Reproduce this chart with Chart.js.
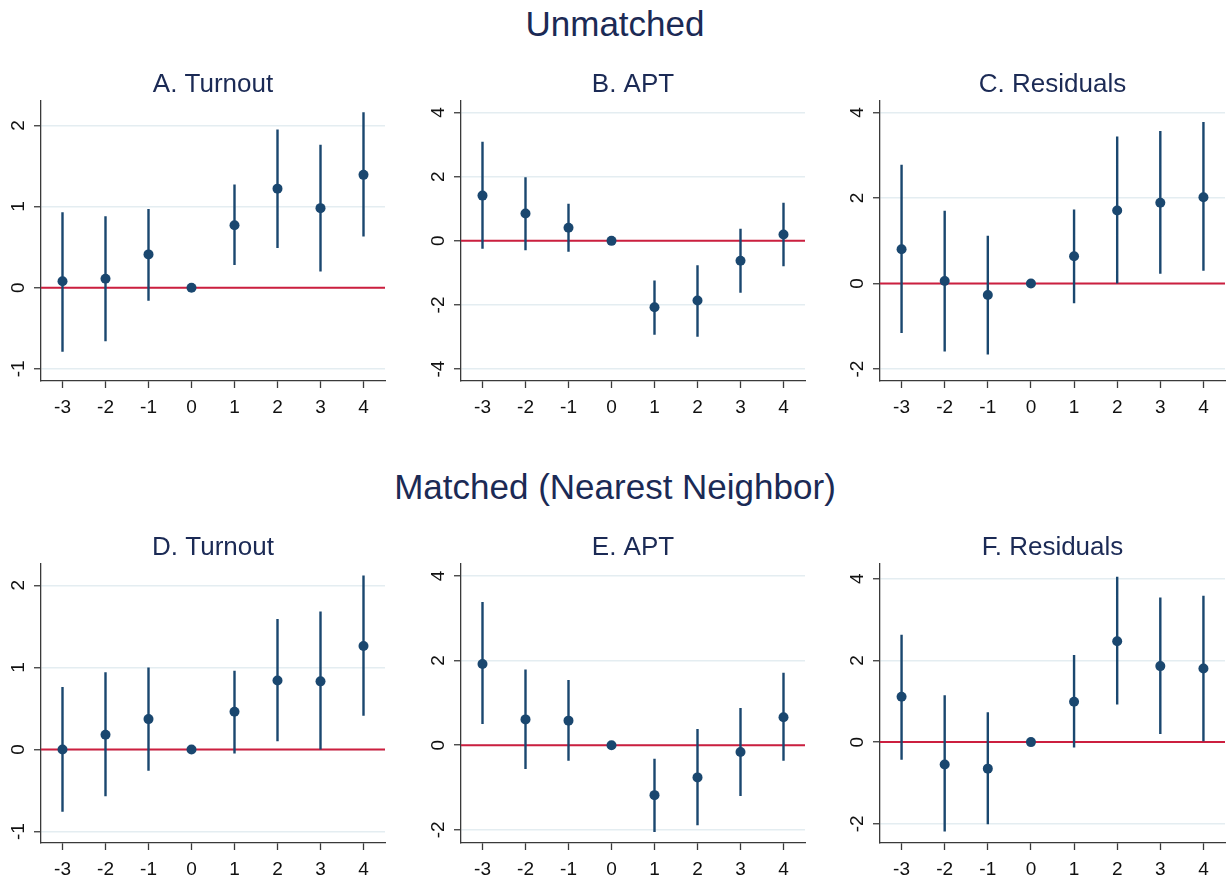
<!DOCTYPE html>
<html>
<head>
<meta charset="utf-8">
<script src="https://cdn.jsdelivr.net/npm/chart.js@4.4.1/dist/chart.umd.min.js"></script>
<style>
  body { margin: 0; background: #fff; }
  #page { position: relative; width: 1230px; height: 876px; overflow: hidden; }
  canvas { position: absolute; }
  .group-title {
    position: absolute; left: 0; width: 1230px; text-align: center;
    font-family: "Liberation Sans", Arial, sans-serif; font-size: 35px;
    line-height: 35px; color: #1b2a55;
  }
</style>
</head>
<body>
<div id="page">
  <div class="group-title" style="top: 6px;">Unmatched</div>
  <div class="group-title" style="top: 469px;">Matched (Nearest Neighbor)</div>
</div>
<script>
// event time (periods relative to treatment)
const periods = [-3, -2, -1, 0, 1, 2, 3, 4];

// A. Turnout (unmatched)
const turnoutUnCoef = [0.08, 0.11, 0.41, 0, 0.77, 1.22, 0.98, 1.39];
const turnoutUnLow = [-0.79, -0.66, -0.16, null, 0.28, 0.49, 0.20, 0.63];
const turnoutUnHigh = [0.93, 0.88, 0.97, null, 1.27, 1.95, 1.76, 2.16];

// B. APT (unmatched)
const aptUnCoef = [1.41, 0.85, 0.41, 0, -2.07, -1.86, -0.62, 0.20];
const aptUnLow = [-0.25, -0.29, -0.34, null, -2.93, -2.99, -1.62, -0.79];
const aptUnHigh = [3.09, 1.98, 1.16, null, -1.24, -0.76, 0.38, 1.19];

// C. Residuals (unmatched)
const residUnCoef = [0.80, 0.06, -0.27, 0, 0.64, 1.71, 1.89, 2.02];
const residUnLow = [-1.16, -1.59, -1.66, null, -0.46, 0.0, 0.23, 0.30];
const residUnHigh = [2.78, 1.70, 1.12, null, 1.73, 3.44, 3.57, 3.78];

// D. Turnout (matched)
const turnoutMCoef = [0.0, 0.18, 0.37, 0, 0.46, 0.84, 0.83, 1.26];
const turnoutMLow = [-0.76, -0.57, -0.26, null, -0.05, 0.10, 0.0, 0.41];
const turnoutMHigh = [0.76, 0.94, 1.0, null, 0.96, 1.59, 1.68, 2.12];

// E. APT (matched)
const aptMCoef = [1.92, 0.61, 0.58, 0, -1.18, -0.76, -0.16, 0.66];
const aptMLow = [0.50, -0.56, -0.37, null, -2.05, -1.89, -1.20, -0.37];
const aptMHigh = [3.38, 1.79, 1.54, null, -0.32, 0.38, 0.88, 1.71];

// F. Residuals (matched)
const residMCoef = [1.11, -0.55, -0.65, 0, 0.99, 2.47, 1.86, 1.80];
const residMLow = [-0.43, -2.19, -2.01, null, -0.13, 0.92, 0.20, 0.02];
const residMHigh = [2.63, 1.15, 0.73, null, 2.13, 4.05, 3.54, 3.58];

// tick labels
const xTicks = [-3, -2, -1, 0, 1, 2, 3, 4];
const turnoutTicks = [-1, 0, 1, 2];
const aptUnTicks = [-4, -2, 0, 2, 4];
const wideTicks = [-2, 0, 2, 4];

const NAVY = "#1a476f";
const RED = "#cc1f3f";
const TITLE = "#1b2a55";
const AXIS = "#3a3a3a";
const GRID = "#e4edf1";
const FONT = "'Liberation Sans', Arial, sans-serif";

const panels = [
  { title: "A. Turnout", coef: turnoutUnCoef, lo: turnoutUnLow, hi: turnoutUnHigh, ticks: turnoutTicks, min: -1.15, max: 2.30, col: 0, row: 0 },
  { title: "B. APT", coef: aptUnCoef, lo: aptUnLow, hi: aptUnHigh, ticks: aptUnTicks, min: -4.37, max: 4.36, col: 1, row: 0 },
  { title: "C. Residuals", coef: residUnCoef, lo: residUnLow, hi: residUnHigh, ticks: wideTicks, min: -2.28, max: 4.27, col: 2, row: 0 },
  { title: "D. Turnout", coef: turnoutMCoef, lo: turnoutMLow, hi: turnoutMHigh, ticks: turnoutTicks, min: -1.14, max: 2.26, col: 0, row: 1 },
  { title: "E. APT", coef: aptMCoef, lo: aptMLow, hi: aptMHigh, ticks: wideTicks, min: -2.31, max: 4.28, col: 1, row: 1 },
  { title: "F. Residuals", coef: residMCoef, lo: residMLow, hi: residMHigh, ticks: wideTicks, min: -2.47, max: 4.36, col: 2, row: 1 },
];

// plot area edges
const colLeft = [41, 461, 880];
const colRight = [386, 806, 1226];
const rowTop = [101, 564];
const rowBottom = [381, 843];
const Y_AXIS_W = 41;
const TOP_PAD = 45;
const X_AXIS_H = 36;

const panelDecor = {
  id: "panelDecor",
  afterDraw(chart) {
    const ctx = chart.ctx;
    const area = chart.chartArea;
    const yScale = chart.scales.y;
    const opts = chart.options.plugins.panelDecor;
    ctx.save();
    // panel title
    ctx.fillStyle = TITLE;
    ctx.font = "26px " + FONT;
    ctx.textAlign = "center";
    ctx.textBaseline = "alphabetic";
    ctx.fillText(opts.title, (area.left + area.right) / 2, area.top - 9);
    // rotated y tick labels
    ctx.fillStyle = "#111";
    ctx.font = "19px " + FONT;
    ctx.textBaseline = "middle";
    opts.ticks.forEach((v) => {
      const y = yScale.getPixelForValue(v);
      ctx.save();
      ctx.translate(area.left - 23, y);
      ctx.rotate(-Math.PI / 2);
      ctx.fillText(String(v), 0, 1);
      ctx.restore();
    });
    ctx.restore();
  },
};

const page = document.getElementById("page");

panels.forEach((p) => {
  const left = colLeft[p.col] - Y_AXIS_W;
  const top = rowTop[p.row] - TOP_PAD;
  const width = colRight[p.col] - left + 4;
  const height = rowBottom[p.row] - top + X_AXIS_H;

  const canvas = document.createElement("canvas");
  canvas.width = width;
  canvas.height = height;
  canvas.style.left = left + "px";
  canvas.style.top = top + "px";
  canvas.style.width = width + "px";
  canvas.style.height = height + "px";
  page.appendChild(canvas);

  // confidence intervals as broken line segments
  const ciPoints = [];
  periods.forEach((x, i) => {
    if (p.lo[i] === null) return;
    ciPoints.push({ x: x, y: p.lo[i] });
    ciPoints.push({ x: x, y: p.hi[i] });
    ciPoints.push({ x: x, y: null });
  });

  new Chart(canvas.getContext("2d"), {
    type: "line",
    data: {
      datasets: [
        {
          label: "coef",
          data: periods.map((x, i) => ({ x: x, y: p.coef[i] })),
          showLine: false,
          pointRadius: 5,
          pointBackgroundColor: NAVY,
          pointBorderWidth: 0,
          order: 0,
        },
        {
          label: "ci",
          data: ciPoints,
          borderColor: NAVY,
          borderWidth: 2.4,
          borderCapStyle: "butt",
          pointRadius: 0,
          spanGaps: false,
          order: 1,
        },
        {
          label: "zero",
          data: [{ x: -3.5, y: 0 }, { x: 4.5, y: 0 }],
          borderColor: RED,
          borderWidth: 2,
          pointRadius: 0,
          order: 2,
        },
      ],
    },
    options: {
      responsive: false,
      animation: false,
      devicePixelRatio: 1,
      layout: { padding: { top: TOP_PAD, right: 4, left: 0, bottom: 0 } },
      plugins: {
        legend: { display: false },
        tooltip: { enabled: false },
        panelDecor: { title: p.title, ticks: p.ticks },
      },
      scales: {
        x: {
          type: "linear",
          min: -3.5,
          max: 4.5,
          afterBuildTicks: (s) => { s.ticks = xTicks.map((v) => ({ value: v })); },
          afterFit: (s) => { s.height = X_AXIS_H; },
          grid: { drawOnChartArea: false, tickLength: 7, tickColor: AXIS, tickWidth: 1.3 },
          border: { color: AXIS, width: 1.3 },
          ticks: { color: "#111", font: { family: FONT, size: 19 }, padding: 8, maxRotation: 0 },
        },
        y: {
          type: "linear",
          min: p.min,
          max: p.max,
          afterBuildTicks: (s) => { s.ticks = p.ticks.map((v) => ({ value: v })); },
          afterFit: (s) => { s.width = Y_AXIS_W; },
          grid: { color: GRID, lineWidth: 1.5, tickLength: 7, tickColor: AXIS, tickWidth: 1.3 },
          border: { color: AXIS, width: 1.3 },
          ticks: { display: false },
        },
      },
    },
    plugins: [panelDecor],
  });
});
</script>
</body>
</html>
